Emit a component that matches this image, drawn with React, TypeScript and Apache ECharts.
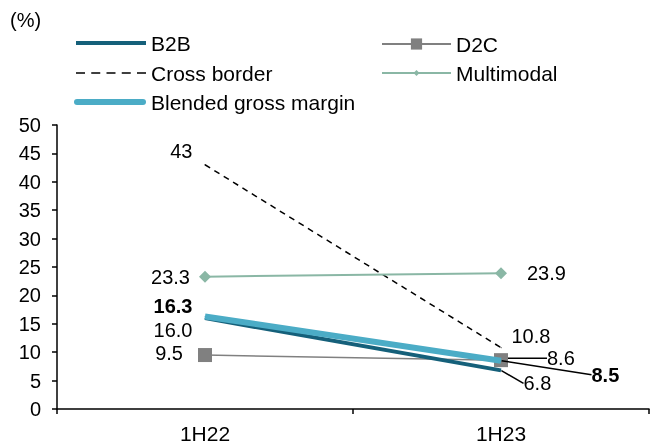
import React, { useEffect, useRef } from "react";
import * as echarts from "echarts";

const categories = ["1H22", "1H23"];
const b2b = [16.0, 6.8];
const d2c = [9.5, 8.6];
const crossBorder = [43, 10.8];
const multimodal = [23.3, 23.9];
const blended = [16.3, 8.5];

const FONT = "Liberation Sans, Arial, sans-serif";
const LFS = 20; // data labels
const GFS = 21; // legend / category labels

const C_B2B = "#15607a";
const C_D2C = "#808080";
const C_CB = "#000000";
const C_MM = "#8ab7a5";
const C_BL = "#4bacc6";

export default function App() {
  const ref = useRef<HTMLDivElement>(null);
  useEffect(() => {
    if (!ref.current) return;
    const chart = echarts.init(ref.current, null, { renderer: "svg" });
    const baseLabel = { show: true, color: "#000", fontFamily: FONT, fontSize: LFS };
    const guide = { show: true, lineStyle: { color: "#000", width: 1.5 } };
    const fmt1 = (p: any) => Number(p.value).toFixed(1);
    const legendText = { fontFamily: FONT, fontSize: GFS, color: "#000" };
    const mkLegend = (name: string, left: number, center: number, extra: any) => ({
      orient: "horizontal",
      left,
      top: center - GFS / 2,
      padding: 0,
      itemGap: 0,
      selectedMode: false,
      textStyle: legendText,
      data: [name],
      ...extra,
    });
    const option: any = {
      animation: false,
      textStyle: { fontFamily: FONT, color: "#000" },
      title: {
        text: "(%)", left: 10, top: 10, padding: 0,
        textStyle: { fontFamily: FONT, fontSize: 20, fontWeight: "normal", color: "#000" },
      },
      grid: { left: 57, right: 10, top: 125, bottom: 37 },
      legend: [
        mkLegend("B2B", 76, 43, {
          itemWidth: 70, itemHeight: 4, itemStyle: { borderWidth: 0 },
          data: [{ name: "B2B", icon: "path://M0,0h70v4h-70z" }],
        }),
        mkLegend("Cross border", 76, 73, {
          itemWidth: 70, itemHeight: 1.5, itemStyle: { borderWidth: 0 },
          data: [{ name: "Cross border", icon: "path://M0,0h9v1.5h-9z M15.25,0h9v1.5h-9z M30.5,0h9v1.5h-9z M45.75,0h9v1.5h-9z M61,0h9v1.5h-9z" }],
        }),
        mkLegend("Blended gross margin", 74, 102, {
          itemWidth: 72, itemHeight: 6, itemStyle: { borderWidth: 0 },
          data: [{ name: "Blended gross margin", icon: "path://M3,0h66a3,3 0 0 1 0,6h-66a3,3 0 0 1 0,-6z" }],
        }),
        mkLegend("D2C", 381, 44, { itemWidth: 69, itemHeight: 14 }),
        mkLegend("Multimodal", 381, 73, { itemWidth: 69, itemHeight: 7.5 }),
      ],
      xAxis: {
        type: "category", data: categories, boundaryGap: true,
        axisLine: { lineStyle: { color: "#000", width: 1.5 } },
        axisTick: { show: true, length: 5, lineStyle: { color: "#000", width: 1.5 } },
        axisLabel: { color: "#000", fontFamily: FONT, fontSize: GFS, margin: 14 },
      },
      yAxis: {
        type: "value", min: 0, max: 50, interval: 5,
        axisLine: { show: true, lineStyle: { color: "#000", width: 1.5 } },
        axisTick: { show: true, length: 5, lineStyle: { color: "#000", width: 1.5 } },
        axisLabel: { color: "#000", fontFamily: FONT, fontSize: 20, margin: 16 },
        splitLine: { show: false },
      },
      series: [
        {
          name: "Cross border", type: "line", symbol: "circle", symbolSize: 1,
          lineStyle: { color: C_CB, width: 1.5, type: [6, 5] },
          itemStyle: { color: C_CB },
          data: [
            { value: crossBorder[0], label: { ...baseLabel, position: "left", distance: 12, offset: [0, -14] } },
            { value: crossBorder[1], label: { ...baseLabel, position: "right", distance: 10, offset: [0, -12] } },
          ],
          z: 2,
        },
        {
          name: "Multimodal", type: "line", symbol: "diamond", symbolSize: 12,
          lineStyle: { color: C_MM, width: 2 },
          itemStyle: { color: C_MM },
          data: [
            { value: multimodal[0], label: { ...baseLabel, position: "left", distance: 9 } },
            { value: multimodal[1], label: { ...baseLabel, position: "right", distance: 20 } },
          ],
          z: 2,
        },
        {
          name: "D2C", type: "line", symbol: "rect", symbolSize: 14,
          lineStyle: { color: C_D2C, width: 1.5 },
          itemStyle: { color: C_D2C },
          labelLine: guide,
          labelLayout: (p: any) => (p.dataIndex === 1 ? { dx: 34, dy: -2 } : { dx: 0, dy: -2 }),
          data: [
            { value: d2c[0], label: { ...baseLabel, position: "left", distance: 15, formatter: fmt1 }, labelLine: { show: false } },
            { value: d2c[1], label: { ...baseLabel, position: "right", distance: 5, formatter: fmt1 } },
          ],
          z: 3,
        },
        {
          name: "B2B", type: "line", symbol: "circle", symbolSize: 1,
          lineStyle: { color: C_B2B, width: 4 },
          itemStyle: { color: C_B2B },
          labelLine: guide,
          labelLayout: (p: any) => (p.dataIndex === 1 ? { dx: 17, dy: 13 } : { dx: 0, dy: 12 }),
          data: [
            { value: b2b[0], label: { ...baseLabel, position: "left", distance: 12, formatter: fmt1 }, labelLine: { show: false } },
            { value: b2b[1], label: { ...baseLabel, position: "right", distance: 5, formatter: fmt1 } },
          ],
          z: 4,
        },
        {
          name: "Blended gross margin", type: "line", symbol: "circle", symbolSize: 1,
          lineStyle: { color: C_BL, width: 6 },
          itemStyle: { color: C_BL },
          labelLine: guide,
          labelLayout: (p: any) => (p.dataIndex === 1 ? { dx: 85, dy: 14 } : { dx: 0, dy: -10 }),
          data: [
            { value: blended[0], label: { ...baseLabel, fontWeight: "bold", position: "left", distance: 12, formatter: fmt1 }, labelLine: { show: false } },
            { value: blended[1], label: { ...baseLabel, fontWeight: "bold", position: "right", distance: 5, formatter: fmt1 } },
          ],
          z: 5,
        },
      ],
    };
    chart.setOption(option);
    return () => chart.dispose();
  }, []);
  return <div ref={ref} style={{ position: "fixed", left: 0, top: 0, width: 659, height: 446 }} />;
}
